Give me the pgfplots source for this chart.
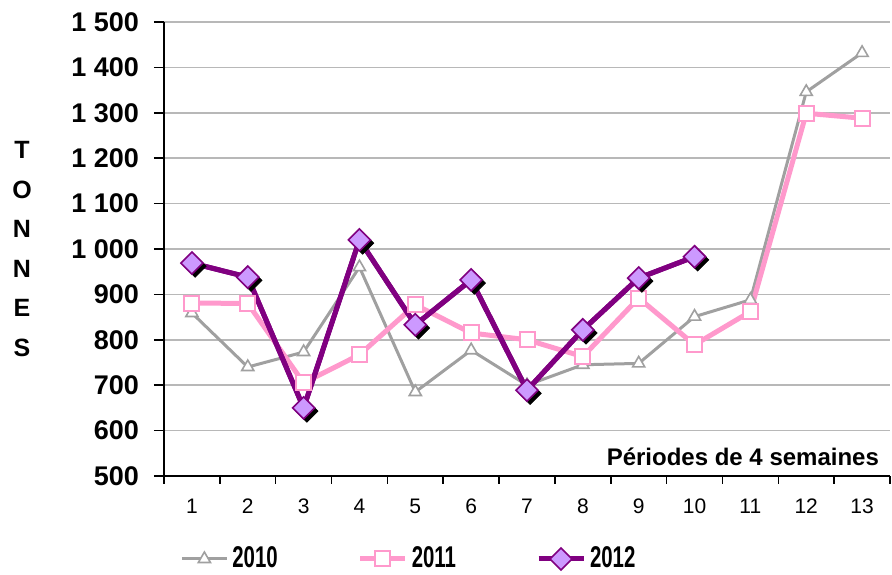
\documentclass[border=0pt]{standalone}
\usepackage{fontspec}
\setmainfont{Liberation Sans}
\usepackage{graphicx}
\usepackage{pgfplots}
\pgfplotsset{compat=1.18}
\definecolor{c10}{HTML}{A0A0A0}
\definecolor{c11}{HTML}{FF99CC}
\definecolor{c12}{HTML}{800080}
\definecolor{c12f}{HTML}{CC99FF}
\begin{document}
\begin{tikzpicture}
\begin{axis}[
  scale only axis, width=363pt, height=227pt,
  xmin=0.5, xmax=13.5, ymin=500, ymax=1500,
  clip=false,
  axis x line*=bottom, axis y line*=left,
  axis line style={-, black, line width=1pt},
  xtick={1,...,13},
  xticklabels={1,2,3,4,5,6,7,8,9,10,11,12,13},
  major x tick style={draw=none},
  minor xtick={0.5,1.5,...,13.5},
  ytick={500,600,...,1500},
  yticklabels={500,600,700,800,900,1 000,1 100,1 200,1 300,1 400,1 500},
  tick align=outside, major tick length=5pt, minor tick length=4pt,
  tick style={black, line width=0.8pt},
  ymajorgrids, grid style={color=black!28, line width=0.8pt},
  yticklabel style={font=\bfseries\fontsize{13.5}{13.5}\selectfont, xshift=-4pt},
  xticklabel style={font=\fontsize{10.5}{10.5}\selectfont, yshift=-3pt},
  legend columns=3,
  legend style={draw=none, fill=none, at={(axis description cs:0,0)}, anchor=west,
    xshift=5pt, yshift=-41.5pt, font=\bfseries\fontsize{15}{15}\selectfont,
    /tikz/every even column/.append style={column sep=38pt}},
  legend image code/.code={\draw[#1, mark repeat=2, mark phase=2] plot coordinates {(0pt,0pt) (11.25pt,0pt) (22.5pt,0pt)};},
]
\addplot[c10, line width=1.5pt, mark=triangle*, mark size=3.5pt,
  mark options={fill=white, draw=c10, line width=0.8pt}] coordinates {
  (1,859) (2,740) (3,773) (4,960) (5,685) (6,777) (7,700) (8,745) (9,748) (10,851) (11,888) (12,1346) (13,1432)};
\addlegendentry{\scalebox{0.68}[1]{2010}}
\addplot[c11, line width=2.5pt, mark=square*, mark size=3.75pt,
  mark options={fill=white, draw=c11, line width=1pt}] coordinates {
  (1,881) (2,880) (3,705) (4,767) (5,877) (6,815) (7,800) (8,763) (9,892) (10,789) (11,862) (12,1299) (13,1288)};
\addlegendentry{\scalebox{0.68}[1]{2011}}
\addplot[forget plot, c12, line width=2.5pt] coordinates {
  (1,969) (2,938) (3,650) (4,1020) (5,833) (6,932) (7,689) (8,822) (9,936) (10,983)};
\addplot[forget plot, only marks, mark=square*, mark size=3.9pt,
  mark options={xshift=1.6pt, yshift=-1.6pt, rotate=45, fill=black, draw=black}] coordinates {
  (1,969) (2,938) (3,650) (4,1020) (5,833) (6,932) (7,689) (8,822) (9,936) (10,983)};
\addplot[c12, line width=2.5pt, mark=square*, mark size=3.9pt,
  mark options={rotate=45, fill=c12f, draw=c12, line width=0.8pt}] coordinates {
  (1,969) (2,938) (3,650) (4,1020) (5,833) (6,932) (7,689) (8,822) (9,936) (10,983)};
\addlegendentry{\scalebox{0.68}[1]{2012}}
\node[anchor=center, align=center, font=\bfseries\fontsize{12.5}{19.8}\selectfont]
  at (rel axis cs:0,0.5) [xshift=-71pt] {T\\O\\N\\N\\E\\S};
\node[anchor=base east, font=\bfseries\fontsize{12}{12}\selectfont]
  at (rel axis cs:1,0) [xshift=-2pt, yshift=5pt] {Périodes de 4 semaines};
\coordinate (bl) at (rel axis cs:0,0);
\coordinate (tr) at (rel axis cs:1,1);
\end{axis}
\pgfresetboundingbox
\path ([shift={(-82pt,-49.5pt)}]bl) rectangle ([shift={(1pt,11pt)}]tr);
\end{tikzpicture}
\end{document}
